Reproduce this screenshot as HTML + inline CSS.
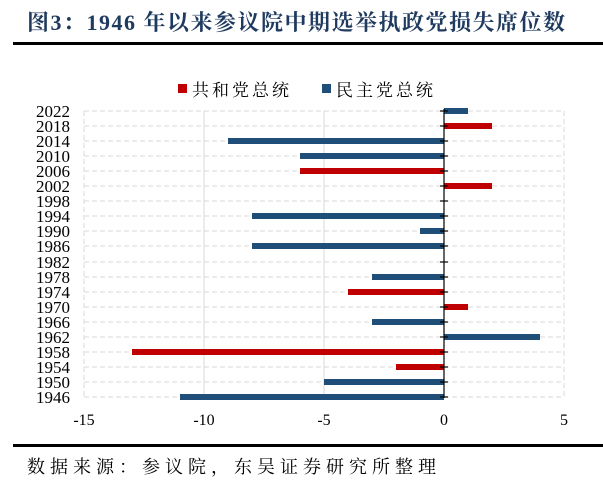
<!DOCTYPE html>
<html><head><meta charset="utf-8"><style>
body{margin:0;background:#fff;width:603px;height:486px;overflow:hidden;}
</style></head><body>
<svg width="603" height="486" xmlns="http://www.w3.org/2000/svg" font-family="Liberation Serif, Noto Serif CJK SC, serif">
<text x="27" y="30" font-size="22" font-weight="bold" fill="#1f3a5f" letter-spacing="1.5">图3：1946 年以来参议院中期选举执政党损失席位数</text>
<rect x="13" y="42" width="590" height="3" fill="#000"/>
<rect x="178" y="84" width="9" height="9" fill="#c00000"/>
<text x="192" y="96" font-size="17" fill="#000" letter-spacing="3">共和党总统</text>
<rect x="322" y="84" width="9" height="9" fill="#1f4e79"/>
<text x="336" y="96" font-size="17" fill="#000" letter-spacing="3">民主党总统</text>
<g stroke="#d9d9d9" stroke-width="1">
<line x1="204" y1="111" x2="204" y2="397"/>
<line x1="324" y1="111" x2="324" y2="397"/>
<line x1="564" y1="111" x2="564" y2="397" stroke-dasharray="5,3"/>
<line x1="84" y1="111" x2="84" y2="397" stroke-dasharray="5,3"/>
<g stroke-dasharray="5,3">
<line x1="84" y1="111" x2="564" y2="111"/><line x1="84" y1="126" x2="564" y2="126"/><line x1="84" y1="141" x2="564" y2="141"/><line x1="84" y1="156" x2="564" y2="156"/><line x1="84" y1="171" x2="564" y2="171"/><line x1="84" y1="186" x2="564" y2="186"/><line x1="84" y1="201" x2="564" y2="201"/><line x1="84" y1="216" x2="564" y2="216"/><line x1="84" y1="231" x2="564" y2="231"/><line x1="84" y1="246" x2="564" y2="246"/><line x1="84" y1="262" x2="564" y2="262"/><line x1="84" y1="277" x2="564" y2="277"/><line x1="84" y1="292" x2="564" y2="292"/><line x1="84" y1="307" x2="564" y2="307"/><line x1="84" y1="322" x2="564" y2="322"/><line x1="84" y1="337" x2="564" y2="337"/><line x1="84" y1="352" x2="564" y2="352"/><line x1="84" y1="367" x2="564" y2="367"/><line x1="84" y1="382" x2="564" y2="382"/><line x1="84" y1="397" x2="564" y2="397"/>
</g></g>
<g fill="#1f4e79">
<rect x="444" y="108" width="24" height="6"/>
<rect x="228" y="138" width="216" height="6"/>
<rect x="300" y="153" width="144" height="6"/>
<rect x="252" y="213" width="192" height="6"/>
<rect x="420" y="228" width="24" height="6"/>
<rect x="252" y="243" width="192" height="6"/>
<rect x="372" y="274" width="72" height="6"/>
<rect x="372" y="319" width="72" height="6"/>
<rect x="444" y="334" width="96" height="6"/>
<rect x="324" y="379" width="120" height="6"/>
<rect x="180" y="394" width="264" height="6"/>
</g>
<g fill="#c00000">
<rect x="444" y="123" width="48" height="6"/>
<rect x="300" y="168" width="144" height="6"/>
<rect x="444" y="183" width="48" height="6"/>
<rect x="348" y="289" width="96" height="6"/>
<rect x="444" y="304" width="24" height="6"/>
<rect x="132" y="349" width="312" height="6"/>
<rect x="396" y="364" width="48" height="6"/>
</g>
<g stroke="#000" stroke-width="1.2">
<line x1="444" y1="109" x2="444" y2="398"/>
<line x1="440" y1="111" x2="448" y2="111"/><line x1="440" y1="126" x2="448" y2="126"/><line x1="440" y1="141" x2="448" y2="141"/><line x1="440" y1="156" x2="448" y2="156"/><line x1="440" y1="171" x2="448" y2="171"/><line x1="440" y1="186" x2="448" y2="186"/><line x1="440" y1="201" x2="448" y2="201"/><line x1="440" y1="216" x2="448" y2="216"/><line x1="440" y1="231" x2="448" y2="231"/><line x1="440" y1="246" x2="448" y2="246"/><line x1="440" y1="262" x2="448" y2="262"/><line x1="440" y1="277" x2="448" y2="277"/><line x1="440" y1="292" x2="448" y2="292"/><line x1="440" y1="307" x2="448" y2="307"/><line x1="440" y1="322" x2="448" y2="322"/><line x1="440" y1="337" x2="448" y2="337"/><line x1="440" y1="352" x2="448" y2="352"/><line x1="440" y1="367" x2="448" y2="367"/><line x1="440" y1="382" x2="448" y2="382"/><line x1="440" y1="397" x2="448" y2="397"/>
</g>
<g font-size="17" text-anchor="end" fill="#000">
<text x="70" y="117">2022</text><text x="70" y="132">2018</text><text x="70" y="147">2014</text><text x="70" y="162">2010</text><text x="70" y="177">2006</text><text x="70" y="192">2002</text><text x="70" y="207">1998</text><text x="70" y="222">1994</text><text x="70" y="237">1990</text><text x="70" y="252">1986</text><text x="70" y="268">1982</text><text x="70" y="283">1978</text><text x="70" y="298">1974</text><text x="70" y="313">1970</text><text x="70" y="328">1966</text><text x="70" y="343">1962</text><text x="70" y="358">1958</text><text x="70" y="373">1954</text><text x="70" y="388">1950</text><text x="70" y="403">1946</text>
</g>
<g font-size="16" text-anchor="middle" fill="#000">
<text x="84" y="425">-15</text><text x="204" y="425">-10</text><text x="324" y="425">-5</text><text x="444" y="425">0</text><text x="564" y="425">5</text>
</g>
<rect x="13" y="444" width="590" height="3" fill="#000"/>
<text x="27" y="473" font-size="18" fill="#000" letter-spacing="5">数据来源：参议院，东吴证券研究所整理</text>
</svg>
</body></html>
